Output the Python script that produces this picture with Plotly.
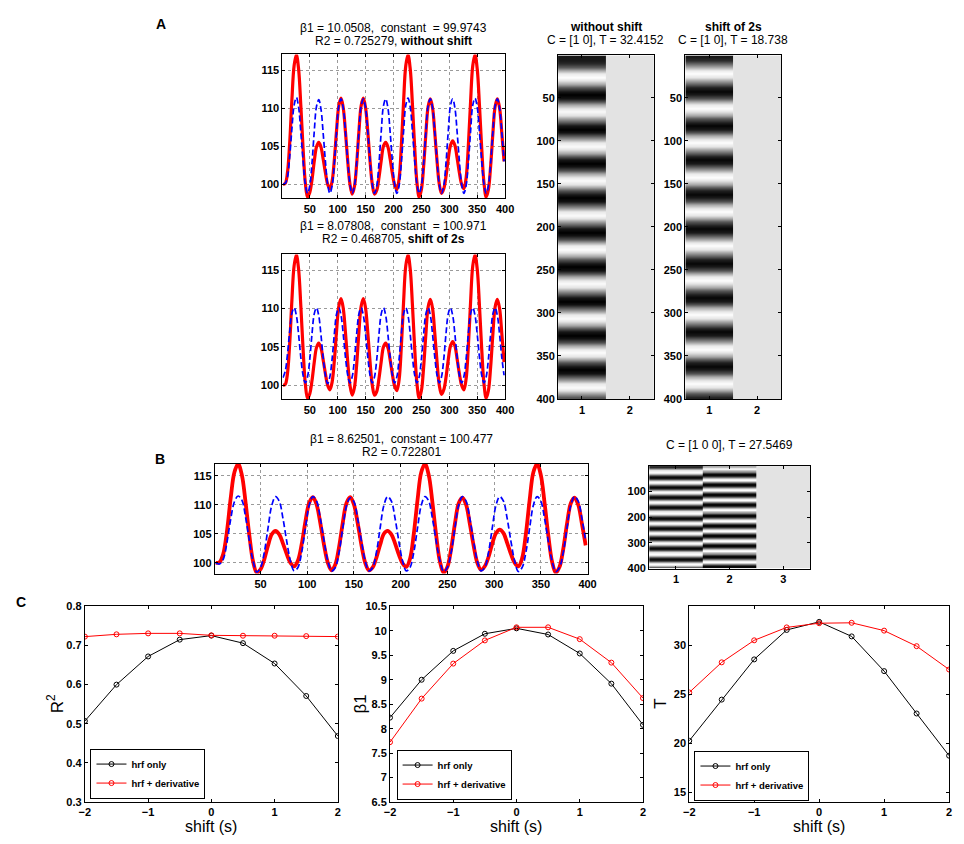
import numpy as np
import plotly.graph_objects as go

# page body has an 8px margin, so the figure is drawn 8px smaller and shifted
OFF = 8
W, H = 964 - OFF, 844 - OFF

# sample index of the time series (1..400, read every 4 samples)
samples = list(range(2, 402, 4))

# measured signal (red) - same data in every fit
signal = [100.0, 100.1, 101.5, 105.4, 111.1, 115.6, 117.0, 115.1, 110.3, 104.7,
          100.2, 98.3, 98.9, 100.6, 103.0, 104.9, 105.5, 104.9, 103.3, 101.5,
          100.0, 99.4, 100.4, 103.2, 107.1, 110.3, 111.3, 110.0, 106.8, 103.0,
          100.0, 98.7, 99.7, 102.7, 106.9, 110.3, 111.3, 110.0, 106.8, 103.0,
          100.0, 98.7, 99.2, 100.9, 103.1, 105.0, 105.5, 104.9, 103.3, 101.4,
          99.9, 99.3, 100.7, 105.0, 110.8, 115.6, 117.0, 115.1, 110.3, 104.7,
          100.2, 98.3, 99.3, 102.4, 106.7, 110.2, 111.2, 110.0, 106.7, 103.0,
          100.0, 98.8, 99.4, 101.0, 103.3, 105.1, 105.7, 105.1, 103.4, 101.5,
          100.0, 99.4, 100.8, 105.0, 110.8, 115.6, 117.0, 115.1, 110.3, 104.7,
          100.2, 98.3, 99.3, 102.4, 106.7, 110.2, 111.2, 110.0, 106.7, 103.0]

# model fit, hrf only, without shift (blue, A top)
fit_noshift = [100.0, 100.1, 100.9, 103.6, 107.3, 110.4, 111.4, 110.1, 106.8, 103.1,
               100.0, 98.8, 99.8, 102.8, 106.9, 110.2, 111.1, 109.9, 106.7, 103.0,
               100.0, 98.8, 99.8, 102.8, 106.9, 110.3, 111.2, 110.0, 106.8, 103.0,
               100.0, 98.8, 99.8, 102.8, 106.9, 110.3, 111.2, 110.0, 106.8, 103.0,
               100.0, 98.8, 99.8, 102.8, 106.9, 110.3, 111.2, 110.0, 106.8, 103.0,
               100.0, 98.8, 99.8, 102.8, 106.9, 110.4, 111.3, 110.1, 106.8, 103.0,
               100.0, 98.8, 99.8, 102.8, 106.9, 110.3, 111.2, 110.0, 106.8, 103.0,
               100.0, 98.8, 99.8, 102.8, 106.9, 110.3, 111.2, 110.0, 106.8, 103.0,
               100.0, 98.8, 99.8, 102.8, 106.9, 110.4, 111.3, 110.1, 106.8, 103.0,
               100.0, 98.8, 99.8, 102.8, 106.9, 110.3, 111.2, 110.0, 106.8, 103.0]

# model fit, hrf only, shift of 2s (blue, A bottom)
fit_shift2 = [101.0, 101.8, 104.0, 107.0, 109.4, 110.1, 109.1, 106.6, 103.6, 101.3,
              100.3, 101.1, 103.4, 106.7, 109.3, 110.1, 109.1, 106.6, 103.6, 101.3,
              100.2, 101.1, 103.4, 106.7, 109.3, 110.1, 109.1, 106.6, 103.6, 101.3,
              100.3, 101.1, 103.4, 106.7, 109.3, 110.1, 109.1, 106.6, 103.6, 101.3,
              100.3, 101.1, 103.4, 106.7, 109.3, 110.1, 109.1, 106.6, 103.6, 101.3,
              100.3, 101.1, 103.4, 106.7, 109.3, 110.1, 109.1, 106.6, 103.6, 101.3,
              100.3, 101.1, 103.4, 106.7, 109.3, 110.1, 109.1, 106.6, 103.6, 101.3,
              100.3, 101.1, 103.4, 106.7, 109.3, 110.1, 109.1, 106.6, 103.6, 101.3,
              100.3, 101.1, 103.4, 106.7, 109.3, 110.1, 109.1, 106.6, 103.6, 101.3,
              100.3, 101.1, 103.4, 106.7, 109.3, 110.1, 109.1, 106.6, 103.6, 101.3]

# model fit, hrf + derivative, shift of 2s (blue, B)
fit_deriv = [100.0, 99.8, 100.6, 103.5, 107.5, 110.5, 111.5, 110.8, 107.8, 103.8,
             100.3, 98.4, 99.2, 101.8, 106.0, 109.9, 111.4, 110.6, 107.6, 103.7,
             100.3, 98.6, 99.2, 101.8, 106.0, 109.9, 111.4, 110.6, 107.6, 103.7,
             100.3, 98.6, 99.2, 101.8, 106.0, 109.8, 111.2, 110.5, 107.5, 103.7,
             100.3, 98.6, 99.2, 101.8, 106.0, 109.9, 111.4, 110.6, 107.6, 103.7,
             100.3, 98.6, 99.2, 101.8, 106.0, 109.9, 111.4, 110.6, 107.6, 103.7,
             100.3, 98.5, 99.2, 101.8, 106.0, 109.9, 111.4, 110.6, 107.6, 103.7,
             100.3, 98.6, 99.2, 101.8, 106.0, 109.9, 111.4, 110.6, 107.6, 103.7,
             100.3, 98.5, 99.2, 101.8, 106.0, 109.9, 111.4, 110.6, 107.6, 103.7,
             100.3, 98.5, 99.2, 101.8, 106.0, 109.9, 111.4, 110.6, 107.6, 103.7]

const_noshift, beta_noshift = 99.9743, 10.0508
const_shift, beta_shift = 100.971, 8.07808

# panel C
shifts = [-2, -1.5, -1, -0.5, 0, 0.5, 1, 1.5, 2]
r2_hrf = [0.507, 0.600, 0.672, 0.715, 0.7253, 0.706, 0.654, 0.571, 0.4687]
r2_deriv = [0.7227, 0.7286, 0.731, 0.731, 0.726, 0.725, 0.725, 0.724, 0.7228]
b1_hrf = [8.226, 9.00, 9.59, 9.94, 10.0508, 9.925, 9.537, 8.92, 8.078]
b1_deriv = [7.724, 8.614, 9.33, 9.804, 10.072, 10.072, 9.83, 9.35, 8.625]
t_hrf = [20.26, 24.47, 28.58, 31.59, 32.4152, 30.93, 27.38, 23.05, 18.738]
t_deriv = [25.2, 28.28, 30.53, 31.85, 32.28, 32.32, 31.52, 29.93, 27.5469]

# design matrix columns (regressors recovered from the fits)
reg_noshift = (np.array(fit_noshift) - const_noshift) / beta_noshift
reg_shift = (np.array(fit_shift2) - const_shift) / beta_shift
d = np.gradient(reg_shift)
reg_d = (d - d.min()) / (d.max() - d.min()) * (reg_shift.max() - reg_shift.min()) + reg_shift.min()
ones = np.ones(len(samples))
zmin = min(reg_noshift.min(), reg_shift.min(), reg_d.min())
zmax = max(reg_noshift.max(), reg_shift.max(), 1.0)


# positions below are pixels in the 964x844 page
def xdom(a, b):
    return [(a - OFF) / W, (b - OFF) / W]


def ydom(top, bottom):
    return [1 - (bottom - OFF) / H, 1 - (top - OFF) / H]


def px(x):
    return (x - OFF) / W


def py(y):
    return 1 - (y - OFF) / H


FONT = 'Liberation Sans'
TICKFONT = dict(family=FONT, size=11, color='black', weight='bold')
AX = dict(showline=True, linecolor='black', linewidth=1, mirror='ticks', ticks='inside',
          ticklen=3, tickcolor='black', tickfont=TICKFONT, zeroline=False, showgrid=False)
GRID = dict(showgrid=True, gridcolor='#9a9a9a', griddash='dot', gridwidth=1)
GRAY = [[0, 'black'], [1, 'white']]

fig = go.Figure()


def add_fit(n, fit, red_w):
    fig.add_trace(go.Scatter(x=samples, y=signal, mode='lines', line=dict(color='#ff0000', width=red_w, shape='spline'),
                             xaxis='x%s' % n, yaxis='y%s' % n, showlegend=False))
    fig.add_trace(go.Scatter(x=samples, y=fit, mode='lines',
                             line=dict(color='#0000ff', width=1.7, dash='6px,3px', shape='spline'),
                             xaxis='x%s' % n, yaxis='y%s' % n, showlegend=False))


def add_design(n, cols):
    for k, col in enumerate(cols, start=1):
        fig.add_trace(go.Heatmap(z=[[v, v] for v in col], x=[k - 0.25, k + 0.25], y=samples,
                                 zmin=zmin, zmax=zmax, colorscale=GRAY, showscale=False, zsmooth='best',
                                 xaxis='x%s' % n, yaxis='y%s' % n, hoverinfo='skip'))


add_fit('', fit_noshift, 3.2)
add_fit('2', fit_shift2, 3.2)
add_design('3', [reg_noshift, ones])
add_design('4', [reg_shift, ones])
add_fit('5', fit_deriv, 3.8)
add_design('6', [reg_shift, reg_d, ones])

cdata = [('7', r2_hrf, r2_deriv, 'legend'), ('8', b1_hrf, b1_deriv, 'legend2'), ('9', t_hrf, t_deriv, 'legend3')]
for n, a, b, lg in cdata:
    fig.add_trace(go.Scatter(x=shifts, y=a, mode='lines+markers', name='hrf only',
                             line=dict(color='black', width=1), marker=dict(symbol='circle-open', size=5, color='black'),
                             xaxis='x' + n, yaxis='y' + n, legend=lg))
    fig.add_trace(go.Scatter(x=shifts, y=b, mode='lines+markers', name='hrf + derivative',
                             line=dict(color='#ff0000', width=1), marker=dict(symbol='circle-open', size=5, color='#ff0000'),
                             xaxis='x' + n, yaxis='y' + n, legend=lg))

ts_y = dict(AX, **GRID, range=[98.15, 117.05], tickvals=[100, 105, 110, 115])
ts_x = dict(AX, **GRID, range=[1, 400], tickvals=list(range(50, 401, 50)))
hm_y = dict(AX, range=[400.5, 0.5], tickvals=list(range(50, 401, 50)))
cx = dict(AX, range=[-2, 2], tickvals=[-2, -1, 0, 1, 2])

layout = dict(
    width=W, height=H, autosize=False, margin=dict(l=0, r=0, t=0, b=0),
    paper_bgcolor='white', plot_bgcolor='white',
    xaxis=dict(ts_x, domain=xdom(280.7, 507), anchor='y'),
    yaxis=dict(ts_y, domain=ydom(49, 195), anchor='x'),
    xaxis2=dict(ts_x, domain=xdom(280.7, 507), anchor='y2'),
    yaxis2=dict(ts_y, domain=ydom(252, 399), anchor='x2'),
    xaxis3=dict(AX, domain=xdom(560.7, 658), anchor='y3', range=[0.5, 2.5], tickvals=[1, 2]),
    yaxis3=dict(hm_y, domain=ydom(50, 399), anchor='x3'),
    xaxis4=dict(AX, domain=xdom(690, 787.3), anchor='y4', range=[0.5, 2.5], tickvals=[1, 2]),
    yaxis4=dict(hm_y, domain=ydom(50, 399), anchor='x4'),
    xaxis5=dict(ts_x, domain=xdom(212, 590.7), anchor='y5'),
    yaxis5=dict(ts_y, domain=ydom(464.3, 575.7), anchor='x5'),
    xaxis6=dict(AX, domain=xdom(653.3, 816.7), anchor='y6', range=[0.5, 3.5], tickvals=[1, 2, 3]),
    yaxis6=dict(AX, domain=ydom(466.7, 570.7), anchor='x6', range=[400.5, 0.5], tickvals=[100, 200, 300, 400]),
    xaxis7=dict(cx, domain=xdom(80, 337), anchor='y7'),
    yaxis7=dict(AX, domain=ydom(609, 807.5), anchor='x7', range=[0.3, 0.8], dtick=0.1),
    xaxis8=dict(cx, domain=xdom(390, 647), anchor='y8'),
    yaxis8=dict(AX, domain=ydom(609, 807.5), anchor='x8', range=[6.5, 10.5], dtick=0.5),
    xaxis9=dict(cx, domain=xdom(694, 958), anchor='y9'),
    yaxis9=dict(AX, domain=ydom(609, 807.5), anchor='x9', range=[14, 34], tickvals=[15, 20, 25, 30]),
)

legend_style = dict(bgcolor='white', bordercolor='black', borderwidth=1, xanchor='left', yanchor='bottom',
                    font=dict(family=FONT, size=9.5, color='black', weight='bold'), tracegroupgap=0,
                    itemwidth=30)
layout['legend'] = dict(legend_style, x=px(85.7), y=py(804))
layout['legend2'] = dict(legend_style, x=px(396.7), y=py(805))
layout['legend3'] = dict(legend_style, x=px(699.3), y=py(806))

# text, x, y, size, angle, xanchor, yanchor
texts = [
    ('β1 = 10.0508,\u00a0 constant\u00a0 = 99.9743', 393.9, 21.7, 12, 0, 'center', 'middle'),
    ('R2 = 0.725279, <b>without shift</b>', 393.9, 35.0, 12, 0, 'center', 'middle'),
    ('β1 = 8.07808,\u00a0 constant\u00a0 = 100.971', 393.9, 223.3, 12, 0, 'center', 'middle'),
    ('R2 = 0.468705, <b>shift of 2s</b>', 393.9, 236.7, 12, 0, 'center', 'middle'),
    ('<b>without shift</b>', 609.4, 20.7, 12, 0, 'center', 'middle'),
    ('C = [1 0], T = 32.4152', 609.4, 34.3, 12, 0, 'center', 'middle'),
    ('<b>shift of 2s</b>', 738.6, 20.7, 12, 0, 'center', 'middle'),
    ('C = [1 0], T = 18.738', 738.6, 34.3, 12, 0, 'center', 'middle'),
    ('β1 = 8.62501,\u00a0 constant = 100.477', 401.4, 439.0, 12, 0, 'center', 'middle'),
    ('R2 = 0.722801', 401.4, 452.7, 12, 0, 'center', 'middle'),
    ('C = [1 0 0], T = 27.5469', 735.0, 445.7, 12, 0, 'center', 'middle'),
    ('<b>A</b>', 157.0, 8.0, 14, 0, 'center', 'top'),
    ('<b>B</b>', 156.7, 459.0, 14, 0, 'center', 'middle'),
    ('<b>C</b>', 8.0, 605.0, 14, 0, 'left', 'middle'),
    ('shift (s)', 208.5, 822.0, 16, 0, 'center', 'top'),
    ('shift (s)', 518.5, 822.0, 16, 0, 'center', 'top'),
    ('shift (s)', 826.0, 822.0, 16, 0, 'center', 'top'),
    ('R<sup>2</sup>', 50.0, 708.0, 17, -90, 'center', 'middle'),
    ('β1', 360.0, 708.0, 17, -90, 'center', 'middle'),
    ('T', 665.0, 708.0, 17, -90, 'center', 'middle'),
]
ann = []
for t, x, y, size, ang, xa, ya in texts:
    ann.append(dict(text=t, x=px(x), y=py(y), xref='paper', yref='paper', showarrow=False,
                    xanchor=xa, yanchor=ya, textangle=ang,
                    font=dict(family=FONT, size=size, color='black')))
layout['annotations'] = ann

fig.update_layout(layout)
fig.write_html("out.html")
